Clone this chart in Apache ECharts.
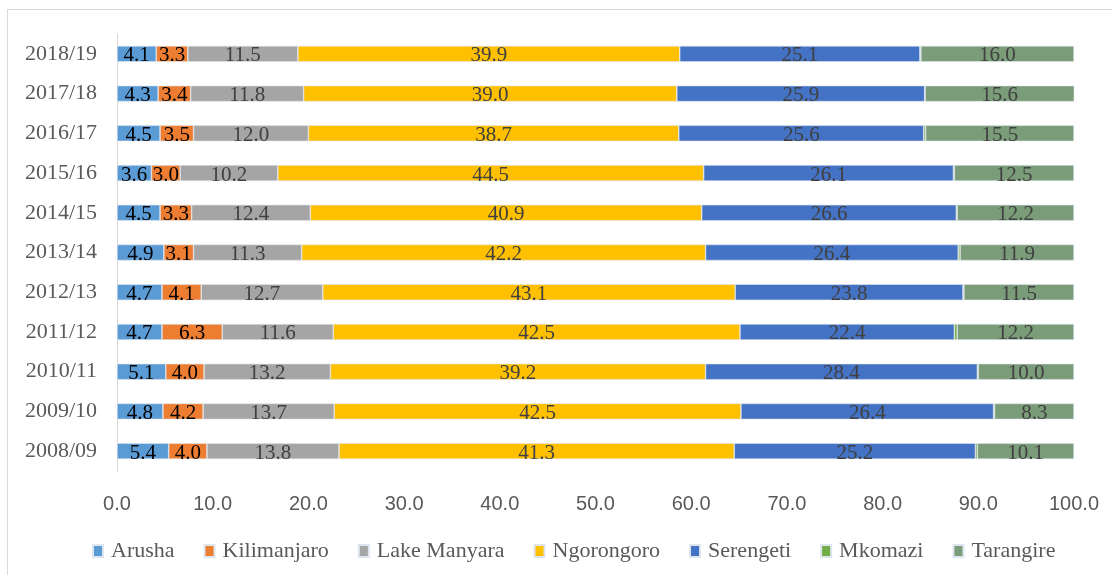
<!DOCTYPE html>
<html>
<head>
<meta charset="utf-8">
<script src="https://cdn.jsdelivr.net/npm/echarts@6/dist/echarts.min.js"></script>
<style>
  html, body { margin:0; padding:0; background:#fff; overflow:hidden; }
  #chart { width:1112px; height:575px; }
  .frame { position:absolute; left:7px; top:9px; width:1120px; height:580px; border-left:1px solid #d9d9d9; border-top:1px solid #d9d9d9; pointer-events:none; }
</style>
</head>
<body>
<div id="chart"></div>
<div class="frame"></div>
<script>
// years, bottom to top
var years = ['2008/09','2009/10','2010/11','2011/12','2012/13','2013/14','2014/15','2015/16','2016/17','2017/18','2018/19'];
var arusha      = [5.4, 4.8, 5.1, 4.7, 4.7, 4.9, 4.5, 3.6, 4.5, 4.3, 4.1];
var kilimanjaro = [4.0, 4.2, 4.0, 6.3, 4.1, 3.1, 3.3, 3.0, 3.5, 3.4, 3.3];
var lakeManyara = [13.8, 13.7, 13.2, 11.6, 12.7, 11.3, 12.4, 10.2, 12.0, 11.8, 11.5];
var ngorongoro  = [41.3, 42.5, 39.2, 42.5, 43.1, 42.2, 40.9, 44.5, 38.7, 39.0, 39.9];
var serengeti   = [25.2, 26.4, 28.4, 22.4, 23.8, 26.4, 26.6, 26.1, 25.6, 25.9, 25.1];
var mkomazi     = [0.2, 0.1, 0.1, 0.3, 0.1, 0.2, 0.1, 0.1, 0.2, 0.05, 0.1];
var tarangire   = [10.1, 8.3, 10.0, 12.2, 11.5, 11.9, 12.2, 12.5, 15.5, 15.6, 16.0];
var xTicks = [0, 10, 20, 30, 40, 50, 60, 70, 80, 90, 100];

var myChart = echarts.init(document.getElementById('chart'));

function mkSeries(name, data, color, labelColor, showLabel) {
  return {
    name: name,
    type: 'bar',
    stack: 'total',
    barWidth: 16,
    data: data,
    itemStyle: { color: color, borderColor: '#dfe5ee', borderWidth: 0.6 },
    label: {
      show: showLabel,
      position: 'inside',
      color: labelColor,
      fontFamily: 'Liberation Serif',
      fontSize: 21,
      offset: [0, 2],
      formatter: function (p) { return p.value.toFixed(1); }
    }
  };
}

myChart.setOption({
  animation: false,
  textStyle: { fontFamily: 'Liberation Serif' },
  grid: { left: 117, right: 38, top: 34, bottom: 104 },
  xAxis: {
    type: 'value',
    min: 0, max: 100, interval: 10,
    axisLine: { show: false },
    axisTick: { show: false },
    splitLine: { show: false },
    axisLabel: {
      color: '#595959',
      fontFamily: 'Liberation Sans',
      fontSize: 20,
      margin: 23,
      formatter: function (v) { return xTicks.indexOf(v) >= 0 ? v.toFixed(1) : ''; }
    }
  },
  yAxis: {
    type: 'category',
    data: years,
    axisLine: { show: true, lineStyle: { color: '#d9d9d9', width: 1 } },
    axisTick: { show: false },
    axisLabel: { color: '#595959', fontFamily: 'Liberation Serif', fontSize: 22, margin: 20 }
  },
  legend: {
    bottom: 8,
    left: 87,
    itemWidth: 10,
    itemHeight: 12,
    itemGap: 29,
    icon: 'rect',
    textStyle: { color: '#595959', fontFamily: 'Liberation Serif', fontSize: 22, padding: [3, 0, 0, 3] }
  },
  series: [
    mkSeries('Arusha', arusha, '#5B9BD5', '#000', true),
    mkSeries('Kilimanjaro', kilimanjaro, '#ED7D31', '#000', true),
    mkSeries('Lake Manyara', lakeManyara, '#A5A5A5', '#404040', true),
    mkSeries('Ngorongoro', ngorongoro, '#FFC000', '#404040', true),
    mkSeries('Serengeti', serengeti, '#4472C4', '#404040', true),
    mkSeries('Mkomazi', mkomazi, '#70AD47', '#404040', false),
    mkSeries('Tarangire', tarangire, '#7A9C78', '#404040', true)
  ]
});
</script>
</body>
</html>
